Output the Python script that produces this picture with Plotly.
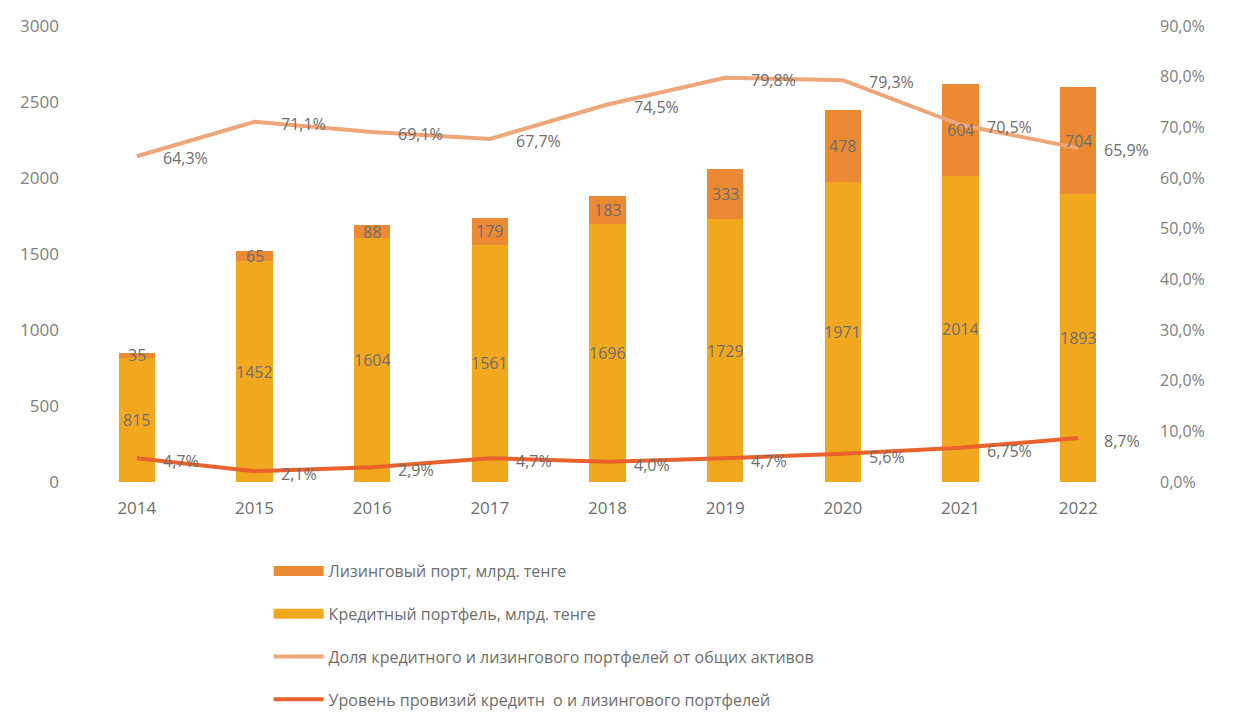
import plotly.graph_objects as go

# Годы и значения портфелей
years = ["2014", "2015", "2016", "2017", "2018", "2019", "2020", "2021", "2022"]
credit = [815, 1452, 1604, 1561, 1696, 1729, 1971, 2014, 1893]
leasing = [35, 65, 88, 179, 183, 333, 478, 604, 704]

# Доли, %
share_pct = [64.3, 71.1, 69.1, 67.7, 74.5, 79.8, 79.3, 70.5, 65.9]
share_lbl = ["64,3%", "71,1%", "69,1%", "67,7%", "74,5%", "79,8%", "79,3%", "70,5%", "65,9%"]
prov_pct = [4.7, 2.1, 2.9, 4.7, 4.0, 4.7, 5.6, 6.75, 8.7]
prov_lbl = ["4,7%", "2,1%", "2,9%", "4,7%", "4,0%", "4,7%", "5,6%", "6,75%", "8,7%"]

left_ticks = [0, 500, 1000, 1500, 2000, 2500, 3000]
right_ticks = [0, 10, 20, 30, 40, 50, 60, 70, 80, 90]
right_ticktext = ["0,0%", "10,0%", "20,0%", "30,0%", "40,0%", "50,0%", "60,0%",
                  "70,0%", "80,0%", "90,0%"]

C_CREDIT = "#F2A81E"
C_LEASING = "#EC8A34"
C_SHARE = "#EFA679"
C_PROV = "#E9612C"
TXT = "#6e6e6e"
FONT = "Open Sans"

NAME_LEASING = "Лизинговый порт, млрд. тенге"
NAME_CREDIT = "Кредитный портфель, млрд. тенге"

fig = go.Figure()

fig.add_trace(go.Bar(
    x=years, y=credit, name=NAME_CREDIT, showlegend=False,
    marker=dict(color=C_CREDIT, line=dict(width=0)), textposition="none",
))
fig.add_trace(go.Bar(
    x=years, y=leasing, name=NAME_LEASING, showlegend=False,
    marker=dict(color=C_LEASING, line=dict(width=0)), textposition="none",
))
# широкие прямоугольные значки легенды для столбцов
fig.add_trace(go.Scatter(
    x=[None], y=[None], mode="lines", name=NAME_LEASING,
    line=dict(color=C_LEASING, width=10), legendrank=1, legendgroup="a",
))
fig.add_trace(go.Scatter(
    x=[None], y=[None], mode="lines", name=NAME_CREDIT,
    line=dict(color=C_CREDIT, width=10), legendrank=2, legendgroup="b",
))
fig.add_trace(go.Scatter(
    x=years, y=share_pct, yaxis="y2", mode="lines",
    name="Доля кредитного и лизингового портфелей от общих активов",
    line=dict(color=C_SHARE, width=4),
    legendrank=3, legendgroup="c",
))
fig.add_trace(go.Scatter(
    x=years, y=prov_pct, yaxis="y2", mode="lines",
    name="Уровень провизий кредитн  о и лизингового портфелей",
    line=dict(color=C_PROV, width=4),
    legendrank=4, legendgroup="d",
))

annotations = []
lbl_font = dict(size=16, color=TXT, family=FONT)
# подписи столбцов: по центру каждого сегмента (x — индекс категории)
for i, (c, l) in enumerate(zip(credit, leasing)):
    annotations.append(dict(x=i, y=c / 2, xref="x", yref="y", text=str(c),
                            showarrow=False, font=lbl_font))
    annotations.append(dict(x=i, y=c + l / 2, xref="x", yref="y", text=str(l),
                            showarrow=False, font=lbl_font))
# подписи линий справа от точек
for i, (v, t) in enumerate(zip(share_pct, share_lbl)):
    annotations.append(dict(x=i, y=v, xref="x", yref="y2", text=t, showarrow=False,
                            xanchor="left", xshift=24, yshift=-2, font=lbl_font))
for i, (v, t) in enumerate(zip(prov_pct, prov_lbl)):
    annotations.append(dict(x=i, y=v, xref="x", yref="y2", text=t, showarrow=False,
                            xanchor="left", xshift=24, yshift=-3, font=lbl_font))

fig.update_layout(
    width=1235, height=717,
    margin=dict(l=78, r=98, t=26, b=235, autoexpand=False),
    paper_bgcolor="white", plot_bgcolor="white",
    barmode="stack", bargap=0.69,
    font=dict(family=FONT, size=16, color=TXT),
    xaxis=dict(type="category", range=[-0.5, len(years) - 0.5], showgrid=False,
               zeroline=False, showline=False, ticks="", ticklabelstandoff=14,
               tickfont=dict(size=17, color=TXT)),
    yaxis=dict(range=[0, 3000], tickvals=left_ticks, showgrid=False, zeroline=False,
               showline=False, ticks="", ticklabelstandoff=18,
               tickfont=dict(size=17, color="#808080")),
    yaxis2=dict(range=[0, 90], overlaying="y", side="right", tickvals=right_ticks,
                ticktext=right_ticktext, showgrid=False, zeroline=False,
                showline=False, ticks="", ticklabelstandoff=22,
                tickfont=dict(size=16, color="#808080")),
    legend=dict(orientation="v", x=0.18, xanchor="left", y=-0.158, yanchor="top",
                font=dict(size=16, color=TXT, family=FONT),
                tracegroupgap=19, itemwidth=50, bgcolor="rgba(0,0,0,0)"),
    annotations=annotations,
)

fig.write_html("out.html")
